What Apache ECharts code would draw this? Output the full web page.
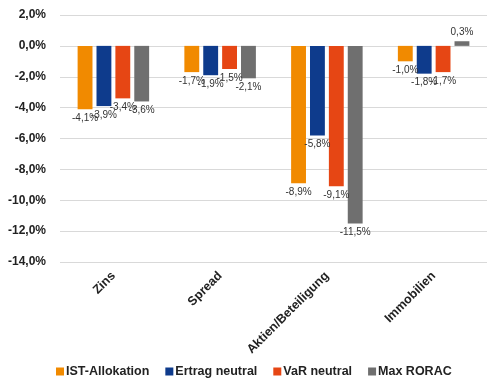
<!DOCTYPE html>
<html><head><meta charset="utf-8">
<script src="https://cdn.jsdelivr.net/npm/echarts@6/dist/echarts.min.js"></script>
<style>html,body{margin:0;padding:0;background:#fff}#c{width:487px;height:379px}</style>
</head><body><div id="c"></div>
<script>
const categories = ['Zins', 'Spread', 'Aktien/Beteiligung', 'Immobilien'];
const seriesNames = ['IST-Allokation', 'Ertrag neutral', 'VaR neutral', 'Max RORAC'];
const istAllokation = [-4.1, -1.7, -8.9, -1.0];
const ertragNeutral = [-3.9, -1.9, -5.8, -1.8];
const varNeutral = [-3.4, -1.5, -9.1, -1.7];
const maxRorac = [-3.6, -2.1, -11.5, 0.3];
const colors = ['#F18A00', '#0E3B8C', '#E64614', '#6F6F6F'];
const allData = [istAllokation, ertragNeutral, varNeutral, maxRorac];

const fmt = (v, d) => v.toFixed(d).replace('.', ',') + '%';
const chart = echarts.init(document.getElementById('c'));
chart.setOption({
  animation: false,
  color: colors,
  textStyle: { fontFamily: 'Liberation Sans, Arial, sans-serif' },
  grid: { left: 60, right: 0, top: 15, bottom: 117, containLabel: false },
  legend: {
    bottom: -4, left: 51, width: 460,
    itemWidth: 8, itemHeight: 8, itemGap: 16,
    icon: 'rect',
    textStyle: { fontSize: 12.5, fontWeight: 'bold', color: '#222', padding: [0, 0, 0, -3] },
    data: seriesNames
  },
  xAxis: {
    type: 'category', data: categories,
    axisLine: { show: false }, axisTick: { show: false },
    axisLabel: { rotate: 45, fontSize: 12.5, fontWeight: 'bold', color: '#222', margin: 12, interval: 0 }
  },
  yAxis: {
    type: 'value', min: -14, max: 2, interval: 2,
    axisLabel: { formatter: v => fmt(v, 1), fontSize: 12, fontWeight: 'bold', color: '#222', margin: 14 },
    splitLine: { lineStyle: { color: '#D9D9D9', width: 1 } },
    axisLine: { show: false }, axisTick: { show: false }
  },
  series: seriesNames.map((n, i) => ({
    name: n, type: 'bar',
    data: allData[i].map(v => ({ value: v, label: { position: v >= 0 ? 'top' : 'bottom' } })),
    barCategoryGap: '33%', barGap: '27%',
    label: {
      show: true, distance: 4,
      formatter: p => fmt(p.value, 1),
      fontSize: 10, color: '#333'
    }
  }))
});
</script></body></html>
